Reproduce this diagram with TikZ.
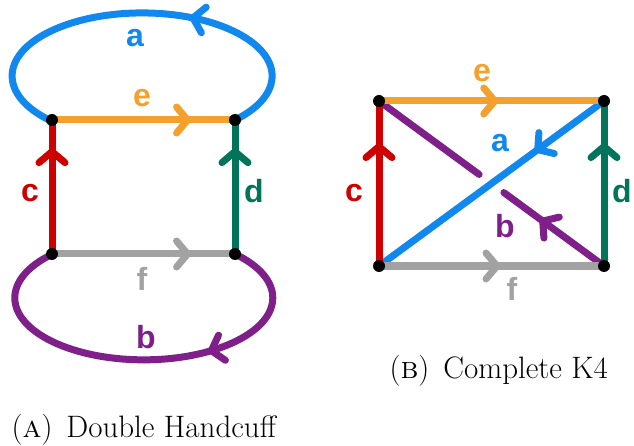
\documentclass[tikz,border=0pt]{standalone}
\usepackage{fontspec}
\newfontfamily\labelfont{Liberation Sans}
\usetikzlibrary{arrows.meta,calc,decorations.markings}
\definecolor{edgeblue}{HTML}{1188EE}
\definecolor{edgeorange}{HTML}{F4A02C}
\definecolor{edgered}{HTML}{CF0000}
\definecolor{edgegreen}{HTML}{03735A}
\definecolor{edgegray}{HTML}{A2A2A2}
\definecolor{edgepurple}{HTML}{7E1F8A}

\tikzset{
  edge/.style={line width=7pt,line cap=round},
  midarrow/.style={postaction={decorate,decoration={markings,
    mark=at position #1 with {\arrow{Straight Barb[length=11pt,width=26pt,round]}}}}},
  elabel/.style={anchor=base,font=\labelfont\fontsize{32}{36}\selectfont\bfseries},
  caption/.style={anchor=base west,font=\fontsize{31}{35}\selectfont}
}

\begin{document}
\begin{tikzpicture}[x=1pt,y=-1pt]
    \path[use as bounding box] (0,0) rectangle (634,446);

    % Double handcuff: two loops joined by a ladder.
    \coordinate (htl) at (52,120);
    \coordinate (htr) at (235,120);
    \coordinate (hbl) at (52,254);
    \coordinate (hbr) at (235,254);

    \draw[edge,edgeblue,midarrow=0.39]
      (htr) arc[start angle=44.4,end angle=-224.4,x radius=130,y radius=63];
    \draw[edge,edgepurple,midarrow=0.35]
      (hbr) arc[start angle=-45,end angle=224.6,x radius=129,y radius=62];
    \draw[edge,edgeorange,midarrow=0.76] (htl) -- (htr);
    \draw[edge,edgered,midarrow=0.79] (hbl) -- (htl);
    \draw[edge,edgegreen,midarrow=0.79] (hbr) -- (htr);
    \draw[edge,edgegray,midarrow=0.76] (hbl) -- (hbr);

    \node[elabel,text=edgeblue] (la) at (135,47) {a};
    \node[elabel,text=edgeorange] (le) at (142,107) {e};
    \node[elabel,text=edgered] (lc) at (30,202) {c};
    \node[elabel,text=edgegreen] (ld) at (254,203) {d};
    \node[elabel,text=edgegray] (lf) at (142,290) {f};
    \node[elabel,text=edgepurple] (lb) at (146,348) {b};

    % Complete K4: a rectangle with both diagonals, a passing over b.
    \coordinate (ktl) at (379,101);
    \coordinate (ktr) at (604,101);
    \coordinate (kbl) at (379,266);
    \coordinate (kbr) at (604,266);

    \draw[edge,edgepurple,midarrow=0.64] (kbr) -- ($(kbr)!0.445!(ktl)$);
    \draw[edge,edgepurple] ($(kbr)!0.555!(ktl)$) -- (ktl);
    \draw[edge,edgeblue,midarrow=0.307] (ktr) -- (kbl);
    \draw[edge,edgeorange,midarrow=0.53] (ktl) -- (ktr);
    \draw[edge,edgered,midarrow=0.745] (kbl) -- (ktl);
    \draw[edge,edgegreen,midarrow=0.745] (kbr) -- (ktr);
    \draw[edge,edgegray,midarrow=0.54] (kbl) -- (kbr);

    \node[elabel,text=edgeorange] (ke) at (482,82) {e};
    \node[elabel,text=edgeblue] (ka) at (500,152) {a};
    \node[elabel,text=edgered] (kc) at (354,202) {c};
    \node[elabel,text=edgegreen] (kd) at (622,203) {d};
    \node[elabel,text=edgepurple] (kb) at (505,238) {b};
    \node[elabel,text=edgegray] (kf) at (512,300) {f};

    % Vertices sit on top of every edge.
    \foreach \v in {htl,htr,hbl,hbr,ktl,ktr,kbl,kbr}
      \fill (\v) circle (6pt);

    \node[caption] (capa) at (8,437) {(\textsc{a})\hspace{.45em}Double Handcuff};
    \node[caption] (capb) at (386,378) {(\textsc{b})\hspace{.45em}Complete K4};
\end{tikzpicture}
\end{document}
